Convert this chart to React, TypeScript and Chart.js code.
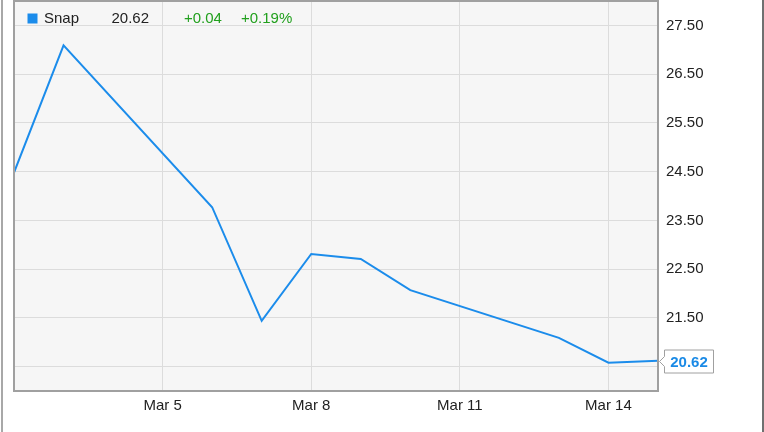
import React, { useEffect, useRef } from "react";
import { Chart, registerables } from "chart.js";

Chart.register(...registerables);

// ---- data ----
const days: number[] = [2, 3, 6, 7, 8, 9, 10, 13, 14, 15]; // March 2017
const closes: number[] = [24.48, 27.09, 23.77, 21.44, 22.81, 22.71, 22.07, 21.09, 20.58, 20.62];
const xTickDays: number[] = [5, 8, 11, 14];
const xTickLabels: string[] = ["Mar 5", "Mar 8", "Mar 11", "Mar 14"];
const yTickValues: number[] = [20.5, 21.5, 22.5, 23.5, 24.5, 25.5, 26.5, 27.5];
const seriesName = "Snap";
const lastValue = "20.62";
const changeAbs = "+0.04";
const changePct = "+0.19%";

const LINE = "#1b8ceb";
const FONT = "'Liberation Sans', Arial, sans-serif";

const framePlugin = {
  id: "frame",
  beforeDraw(chart: any) {
    const { ctx, chartArea: a } = chart;
    ctx.save();
    ctx.fillStyle = "#ffffff";
    ctx.fillRect(0, 0, chart.width, chart.height);
    ctx.fillStyle = "#f6f6f6";
    ctx.fillRect(a.left, a.top, a.right - a.left, a.bottom - a.top);
    ctx.restore();
  },
  afterDraw(chart: any) {
    const { ctx, chartArea: a } = chart;
    ctx.save();
    // plot border
    ctx.strokeStyle = "#a0a0a0";
    ctx.lineWidth = 2;
    ctx.strokeRect(a.left, a.top, a.right - a.left, a.bottom - a.top);
    // outer frame lines
    ctx.fillStyle = "#a8a8a8";
    ctx.fillRect(1, 0, 2, chart.height);
    ctx.fillStyle = "#707070";
    ctx.fillRect(762, 0, 2, chart.height);

    // legend
    ctx.fillStyle = LINE;
    ctx.fillRect(27.5, 13.5, 10, 10);
    ctx.font = `15px ${FONT}`;
    ctx.textBaseline = "alphabetic";
    ctx.textAlign = "left";
    ctx.fillStyle = "#222222";
    ctx.fillText(seriesName, 44, 23);
    ctx.textAlign = "right";
    ctx.fillText(lastValue, 149, 23);
    ctx.textAlign = "left";
    ctx.fillStyle = "#22a01e";
    ctx.fillText(changeAbs, 184, 23);
    ctx.fillText(changePct, 241, 23);

    // end value label
    const ys = chart.scales.y;
    const py = Math.round(ys.getPixelForValue(closes[closes.length - 1])) + 0.5;
    const bx = a.right + 6.5;
    const bw = 49;
    const bh = 23;
    ctx.beginPath();
    ctx.moveTo(bx, py - bh / 2);
    ctx.lineTo(bx + bw, py - bh / 2);
    ctx.lineTo(bx + bw, py + bh / 2);
    ctx.lineTo(bx, py + bh / 2);
    ctx.lineTo(bx, py + 5);
    ctx.lineTo(bx - 5, py);
    ctx.lineTo(bx, py - 5);
    ctx.closePath();
    ctx.fillStyle = "#ffffff";
    ctx.fill();
    ctx.strokeStyle = "#a0a0a0";
    ctx.lineWidth = 1;
    ctx.stroke();
    ctx.font = `bold 15px ${FONT}`;
    ctx.fillStyle = "#1a8ae6";
    ctx.textAlign = "center";
    ctx.textBaseline = "middle";
    ctx.fillText(closes[closes.length - 1].toFixed(2), bx + bw / 2, py + 1);
    ctx.restore();
  },
};

export default function App() {
  const ref = useRef<HTMLCanvasElement | null>(null);

  useEffect(() => {
    document.body.style.margin = "0";
    const canvas = ref.current;
    if (!canvas) return;
    const chart = new Chart(canvas, {
      type: "line",
      data: {
        datasets: [
          {
            label: seriesName,
            data: days.map((d, i) => ({ x: d, y: closes[i] })),
            borderColor: LINE,
            borderWidth: 2,
            pointRadius: 0,
            tension: 0,
            fill: false,
          },
        ],
      },
      options: {
        animation: false,
        responsive: false,
        devicePixelRatio: 1,
        layout: { padding: { left: 14, top: 1, right: 0, bottom: 0 } },
        plugins: { legend: { display: false }, tooltip: { enabled: false } },
        scales: {
          x: {
            type: "linear",
            min: 2,
            max: 15,
            afterBuildTicks: (s: any) => {
              s.ticks = xTickDays.map((v) => ({ value: v }));
            },
            afterFit: (s: any) => {
              s.height = 41;
              s.paddingLeft = 0;
              s.paddingRight = 0;
            },
            ticks: {
              autoSkip: false,
              maxRotation: 0,
              padding: 6,
              color: "#222222",
              font: { family: FONT, size: 15 },
              callback: (v: any) => {
                const i = xTickDays.indexOf(Number(v));
                return i >= 0 ? xTickLabels[i] : "";
              },
            },
            grid: { color: "#dcdcdc", lineWidth: 1, drawTicks: false },
            border: { display: false },
          },
          y: {
            type: "linear",
            position: "right",
            min: 20,
            max: 28,
            afterBuildTicks: (s: any) => {
              s.ticks = yTickValues.map((v) => ({ value: v }));
            },
            afterFit: (s: any) => {
              s.width = 106;
              s.paddingTop = 0;
              s.paddingBottom = 0;
            },
            ticks: {
              padding: 8,
              color: "#222222",
              font: { family: FONT, size: 15 },
              callback: (v: any) => Number(v).toFixed(2),
            },
            grid: { color: "#dcdcdc", lineWidth: 1, drawTicks: false },
            border: { display: false },
          },
        },
      },
      plugins: [framePlugin],
    } as any);
    return () => chart.destroy();
  }, []);

  return (
    <div style={{ position: "fixed", left: 0, top: 0, width: 764, height: 432 }}>
      <canvas ref={ref} width={764} height={432} style={{ display: "block" }} />
    </div>
  );
}
